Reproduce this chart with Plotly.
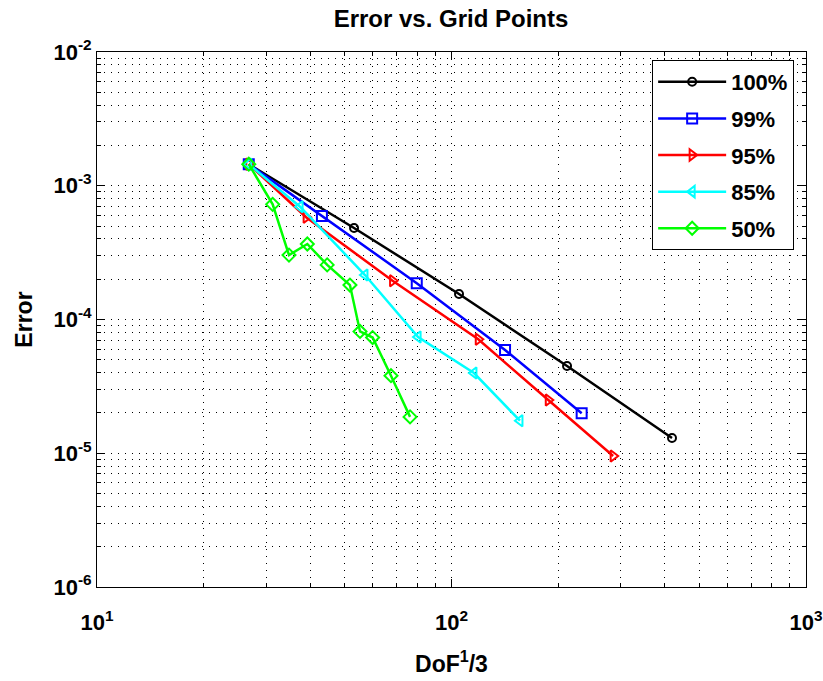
import plotly.graph_objects as go

x100 = [26.8, 53.1, 105.0, 211.8, 418.8]
y100 = [1.45e-3, 4.83e-4, 1.55e-4, 4.49e-5, 1.30e-5]

x99 = [26.8, 43.1, 79.8, 141.6, 232.9]
y99 = [1.45e-3, 5.94e-4, 1.87e-4, 5.91e-5, 1.99e-5]

x95 = [26.8, 38.9, 68.2, 119.0, 187.5, 285.8]
y95 = [1.45e-3, 5.81e-4, 1.95e-4, 7.11e-5, 2.50e-5, 9.53e-6]

x85 = [26.8, 37.4, 57.0, 80.5, 115.7, 156.0]
y85 = [1.45e-3, 6.97e-4, 2.15e-4, 7.40e-5, 3.98e-5, 1.75e-5]

x50 = [26.8, 31.3, 34.8, 39.2, 44.6, 51.7, 55.2, 59.9, 67.5, 76.4]
y50 = [1.45e-3, 7.26e-4, 3.03e-4, 3.67e-4, 2.56e-4, 1.81e-4, 8.14e-5, 7.33e-5, 3.80e-5, 1.87e-5]

series = [
    ("100%", x100, y100, "black", "circle-open", 8),
    ("99%", x99, y99, "#0000ff", "square-open", 10),
    ("95%", x95, y95, "#ff0000", "triangle-right-open", 10),
    ("85%", x85, y85, "#00ffff", "triangle-left-open", 10),
    ("50%", x50, y50, "#00ff00", "diamond-open", 10),
]

xtickvals = [10, 100, 1000]
xticktext = ["10<sup>1</sup>", "10<sup>2</sup>", "10<sup>3</sup>"]
ytickvals = [1e-6, 1e-5, 1e-4, 1e-3, 1e-2]
yticktext = ["10<sup>-6</sup>", "10<sup>-5</sup>", "10<sup>-4</sup>", "10<sup>-3</sup>", "10<sup>-2</sup>"]

fig = go.Figure()
for i, (name, xs, ys, col, sym, sz) in enumerate(series):
    fig.add_trace(go.Scatter(
        x=xs, y=ys, name=name, mode="lines+markers",
        line=dict(color=col, width=2.5),
        marker=dict(symbol=sym, size=sz, color=col, line=dict(color=col, width=2)),
        legendgroup="g%d" % i,
    ))

font_family = "Liberation Sans, Arial, sans-serif"
axis_common = dict(
    type="log", showline=True, linecolor="black", linewidth=1, mirror="ticks",
    ticks="inside", ticklen=8, tickcolor="black",
    showgrid=True, gridcolor="black", griddash="1px,6px", gridwidth=1,
    zeroline=False, automargin=False,
    tickfont=dict(family=font_family, size=22, color="black", weight="bold"),
    minor=dict(showgrid=True, gridcolor="black", griddash="1px,6px", gridwidth=1,
               ticks="inside", ticklen=4, tickcolor="black", dtick="D1"),
)

fig.update_xaxes(**axis_common, range=[1, 3], tickvals=xtickvals, ticktext=xticktext,
                 ticklabelstandoff=16,
                 title=dict(text="DoF<sup>1</sup>/3", font=dict(family=font_family, size=23, color="black", weight="bold"), standoff=21))
fig.update_yaxes(**axis_common, range=[-6, -2], tickvals=ytickvals, ticktext=yticktext,
                 title=dict(text="Error", font=dict(family=font_family, size=23, color="black", weight="bold"), standoff=14))

fig.update_layout(
    width=823, height=681,
    margin=dict(l=97, r=17, t=52, b=94),
    paper_bgcolor="white", plot_bgcolor="white",
    title=dict(text="Error vs. Grid Points", x=0.548, xanchor="center", y=0.972, yanchor="middle",
               font=dict(family=font_family, size=24, color="black", weight="bold")),
    legend=dict(x=0.783, y=0.985, xanchor="left", yanchor="top",
                bgcolor="white", bordercolor="black", borderwidth=1,
                font=dict(family=font_family, size=22, color="black", weight="bold"),
                tracegroupgap=5, itemwidth=68),
    showlegend=True,
)

fig.write_html("out.html")
